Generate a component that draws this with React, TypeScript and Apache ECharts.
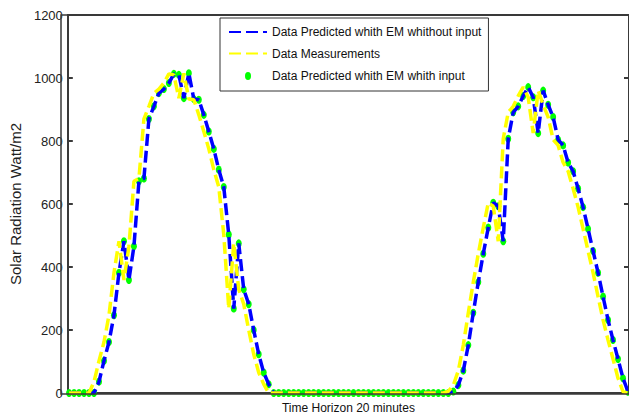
import React, { useEffect, useRef } from "react";
import * as echarts from "echarts";

// Time steps (20-minute intervals) are the array indices 0..112
const predictedWithoutInput = [
  0, 0, 0, 0, 0, 0,
  36, 102, 162, 247, 382, 482, 359, 466,
  672, 681, 870, 910, 952, 965, 984, 1013,
  1010, 936, 1015, 933, 931, 883, 830, 775,
  709, 654, 503, 268, 475, 329, 282, 200,
  123, 65, 28, 0,
  0, 0, 0, 0, 0, 0, 0, 0, 0, 0, 0, 0, 0, 0, 0, 0, 0, 0, 0, 0, 0, 0, 0, 0, 0, 0, 0, 0, 0, 0, 0, 0, 0, 0, 0,
  5,
  25, 71, 152, 255, 352, 442, 525, 604,
  593, 482, 807, 891, 910, 943, 971, 939,
  825, 960, 915, 876, 804, 786, 732, 704,
  649, 590, 521, 451, 382, 306, 232, 168,
  108, 47, 4,
];

const measurements = [
  0, 0, 0, 0, 0,
  36, 102, 162, 247, 382, 482, 359, 466,
  672, 681, 870, 910, 952, 965, 984, 1013,
  1010, 936, 1015, 933, 931, 883, 830, 775,
  709, 654, 503, 268, 475, 329, 282, 200,
  123, 65, 28, 0,
  0, 0, 0, 0, 0, 0, 0, 0, 0, 0, 0, 0, 0, 0, 0, 0, 0, 0, 0, 0, 0, 0, 0, 0, 0, 0, 0, 0, 0, 0, 0, 0, 0, 0, 0,
  5,
  25, 71, 152, 255, 352, 442, 525, 604,
  593, 482, 807, 891, 910, 943, 971, 939,
  825, 960, 915, 876, 804, 786, 732, 704,
  649, 590, 521, 451, 382, 306, 232, 168,
  108, 47, 4,
  0,
];

const predictedWithInput = [
  0, 0, 0, 0, 0, 0,
  36, 102, 162, 247, 382, 482, 359, 466,
  672, 681, 870, 910, 952, 965, 984, 1013,
  1010, 936, 1015, 933, 931, 883, 830, 775,
  709, 654, 503, 268, 475, 329, 282, 200,
  123, 65, 28, 0,
  0, 0, 0, 0, 0, 0, 0, 0, 0, 0, 0, 0, 0, 0, 0, 0, 0, 0, 0, 0, 0, 0, 0, 0, 0, 0, 0, 0, 0, 0, 0, 0, 0, 0, 0,
  5,
  25, 71, 152, 255, 352, 442, 525, 604,
  593, 482, 807, 891, 910, 943, 971, 939,
  825, 960, 915, 876, 804, 786, 732, 704,
  649, 590, 521, 451, 382, 306, 232, 168,
  108, 47, 4,
];

const seriesNames = [
  "Data Predicted whith EM whithout input",
  "Data Measurements",
  "Data Predicted whith EM whith input",
];
const xTitle = "Time Horizon 20 minutes";
const yTitle = "Solar Radiation Watt/m2";
const yMin = 0;
const yMax = 1200;
const yStep = 200;
const xMin = -0.25;
const xMax = 112.2;

const FONT = "'Liberation Sans', Arial, sans-serif";
const AXIS_COLOR = "#3a3a3a";

const GRID = { left: 61, top: 15, width: 568, height: 379 };

const toPairs = (arr: number[]) => arr.map((v, i) => [i, v]);

export default function App() {
  const ref = useRef<HTMLDivElement>(null);

  useEffect(() => {
    document.body.style.margin = "0";
    if (!ref.current) return;
    const chart = echarts.init(ref.current, null, { renderer: "svg" });
    const frameLine = { show: true, onZero: false, lineStyle: { color: AXIS_COLOR, width: 2 } };
    const xBase = {
      type: "value",
      min: xMin,
      max: xMax,
      axisLine: frameLine,
      axisTick: { show: false },
      axisLabel: { show: false },
      splitLine: { show: false },
    };
    const yBase = {
      type: "value",
      min: yMin,
      max: yMax,
      interval: yStep,
      axisLine: frameLine,
      axisTick: { show: true, inside: true, length: 5, lineStyle: { color: AXIS_COLOR, width: 2 } },
      splitLine: { show: false },
    };
    chart.setOption({
      animation: false,
      textStyle: { fontFamily: FONT },
      grid: { ...GRID },
      legend: {
        orient: "vertical",
        left: 220,
        top: 18,
        padding: [8, 7, 8, 8],
        itemWidth: 38,
        itemHeight: 14,
        itemGap: 9.5,
        backgroundColor: "#ffffff",
        borderColor: "#333333",
        borderWidth: 1,
        selectedMode: false,
        textStyle: { fontSize: 12, color: "#111111", fontFamily: FONT },
        data: [
          { name: seriesNames[0], itemStyle: { opacity: 0 } },
          { name: seriesNames[1], itemStyle: { opacity: 0 } },
          {
            name: seriesNames[2],
            icon:
              "path://M0,0L0.01,0L0,0.01ZM38,14L37.99,14L38,13.99ZM16,7A3,4,0,1,1,22,7A3,4,0,1,1,16,7Z",
            itemStyle: { color: "#00ff00", borderWidth: 0 },
          },
        ],
      },
      graphic: {
        elements: [
          {
            type: "rect",
            z: 100,
            silent: true,
            shape: { x: GRID.left, y: GRID.top, width: GRID.width, height: GRID.height },
            style: { fill: "transparent", stroke: AXIS_COLOR, lineWidth: 1.5 },
          },
        ],
      },
      xAxis: [
        {
          ...xBase,
          position: "bottom",
          name: xTitle,
          nameLocation: "middle",
          nameGap: 9,
          nameTextStyle: { fontSize: 12, color: "#111111", fontFamily: FONT },
        },
        { ...xBase, position: "top" },
      ],
      yAxis: [
        {
          ...yBase,
          position: "left",
          axisLabel: {
            margin: 5,
            fontSize: 13,
            color: "#222222",
            fontFamily: FONT,
            formatter: (v: number) => String(v),
          },
          name: yTitle,
          nameLocation: "middle",
          nameRotate: 90,
          nameGap: 40,
          nameTextStyle: { fontSize: 15, color: "#222222", fontFamily: FONT },
        },
        { ...yBase, position: "right", axisLabel: { show: false } },
      ],
      series: [
        {
          type: "line",
          name: seriesNames[0],
          data: toPairs(predictedWithoutInput),
          symbol: "none",
          lineStyle: { color: "#0000ff", width: 3.5, type: [12, 5] },
          itemStyle: { color: "#0000ff" },
        },
        {
          type: "line",
          name: seriesNames[1],
          data: toPairs(measurements),
          symbol: "none",
          lineStyle: { color: "#ffff00", width: 3.5, type: [12, 5] },
          itemStyle: { color: "#ffff00" },
        },
        {
          type: "scatter",
          name: seriesNames[2],
          data: toPairs(predictedWithInput),
          symbol: "circle",
          symbolSize: [6, 8],
          itemStyle: { color: "#00ff00", opacity: 1 },
        },
      ],
    });

    return () => chart.dispose();
  }, []);

  return <div ref={ref} style={{ width: 629, height: 419 }} />;
}
